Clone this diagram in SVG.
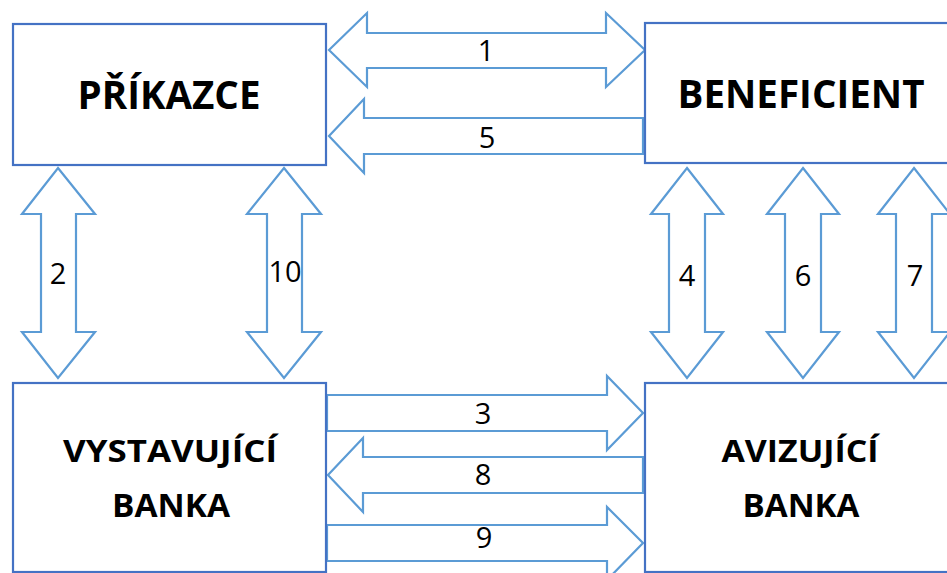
<svg xmlns="http://www.w3.org/2000/svg" width="947" height="573" viewBox="0 0 947 573">
<style>
.box{fill:#fff;stroke:#4472C4;stroke-width:2.2}
.arr{fill:#fff;stroke:#5B9BD5;stroke-width:2.2;stroke-linejoin:miter}
.t{font-family:"Open Sans","Liberation Sans",sans-serif;font-weight:bold;fill:#000;text-anchor:middle}
.n{font-family:"Open Sans","Liberation Sans",sans-serif;font-size:29px;fill:#000;text-anchor:middle}
</style>
<rect width="947" height="573" fill="#fff"/>
<g id="connectors">
<polygon class="arr" points="329,50 367,13 367,33 606,33 606,13 645,50 606,87 606,68 367,68 367,87"/>
<polygon class="arr" points="329,136 364,99 364,118 643,118 643,154 364,154 364,173"/>
<polygon class="arr" points="58,168 95,214 76,214 76,332 95,332 58,378 22,332 41,332 41,214 22,214"/>
<polygon class="arr" points="284,168 321,214 302,214 302,332 321,332 284,378 247,332 267,332 267,214 247,214"/>
<polygon class="arr" points="687,168 723,214 705,214 705,332 723,332 687,378 651,332 669,332 669,214 651,214"/>
<polygon class="arr" points="803,168 839,214 821,214 821,332 839,332 803,378 767,332 785,332 785,214 767,214"/>
<polygon class="arr" points="914,168 950,214 932,214 932,332 950,332 914,378 878,332 896,332 896,214 878,214"/>
<polygon class="arr" points="327,395 607,395 607,376 643,413 607,450 607,431 327,431"/>
<polygon class="arr" points="328,475 363,438 363,457 643,457 643,493 363,493 363,512"/>
<polygon class="arr" points="327,525 607,525 607,507 643,543 607,580 607,561 327,561"/>
<text class="n" x="486" y="61">1</text>
<text class="n" x="487" y="148">5</text>
<text class="n" x="58" y="284">2</text>
<text class="n" x="285" y="282">10</text>
<text class="n" x="687" y="286">4</text>
<text class="n" x="803" y="286">6</text>
<text class="n" x="915" y="286">7</text>
<text class="n" x="483" y="424">3</text>
<text class="n" x="483" y="485">8</text>
<text class="n" x="484" y="548">9</text>
</g>
<g id="prikazce">
<rect class="box" x="13" y="24" width="313" height="141"/>
<text class="t" x="169" y="109" font-size="39" textLength="183" lengthAdjust="spacingAndGlyphs">PŘÍKAZCE</text>
</g>
<g id="beneficient">
<rect class="box" x="645" y="23" width="330" height="140"/>
<text class="t" x="801" y="108" font-size="39" textLength="247" lengthAdjust="spacingAndGlyphs">BENEFICIENT</text>
</g>
<g id="vystavujici-banka">
<rect class="box" x="13" y="383" width="313" height="189"/>
<text class="t" x="170" y="462" font-size="31" textLength="214" lengthAdjust="spacingAndGlyphs">VYSTAVUJÍCÍ</text>
<text class="t" x="171" y="517" font-size="32" textLength="118" lengthAdjust="spacingAndGlyphs">BANKA</text>
</g>
<g id="avizujici-banka">
<rect class="box" x="645" y="383" width="330" height="189"/>
<text class="t" x="800" y="462" font-size="31" textLength="157" lengthAdjust="spacingAndGlyphs">AVIZUJÍCÍ</text>
<text class="t" x="801" y="517" font-size="32" textLength="117" lengthAdjust="spacingAndGlyphs">BANKA</text>
</g>
</svg>
